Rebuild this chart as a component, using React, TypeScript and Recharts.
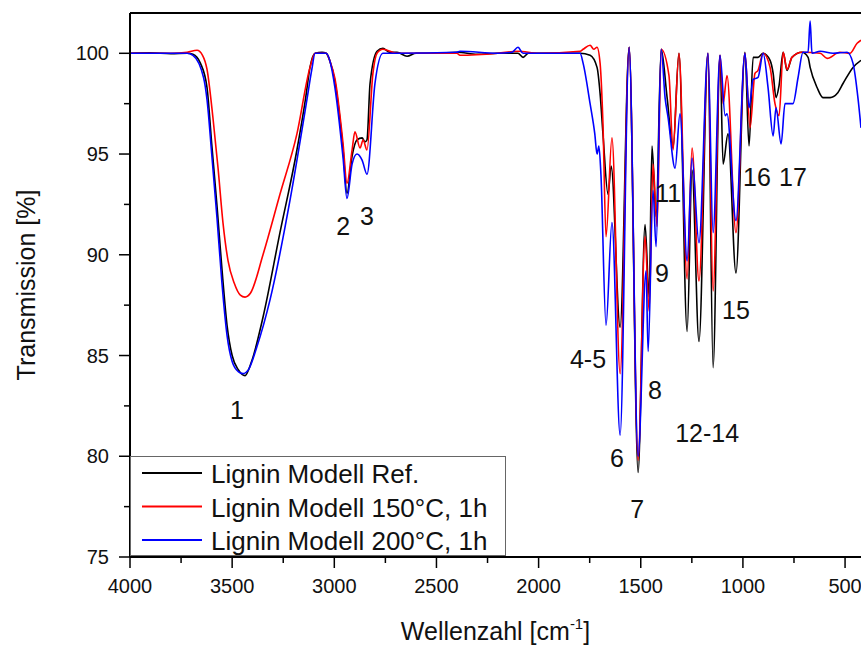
import { LineChart, Line, XAxis, YAxis, Legend, ReferenceDot, ReferenceLine, Label } from "recharts";

// [wavenumber cm-1, transmission %]
const refSpectrum: [number, number][] = [
  [4000, 100], [3900, 100.02], [3800, 99.98], [3720, 100], [3692, 99.95], [3655, 99.5], [3623, 98.3],
  [3600, 95.5], [3574, 92.4], [3550, 89.3], [3525, 86.5], [3500, 85.0], [3470, 84.3], [3437, 84.0],
  [3405, 84.7], [3349, 86.9], [3266, 91.1], [3183, 95.2], [3140, 97.8], [3119, 99.3], [3094, 100],
  [3060, 100.05], [3040, 100], [3021, 99.6], [2997, 98.6], [2957, 95.2], [2938, 93.05], [2913, 94.9],
  [2889, 95.7], [2864, 95.8], [2850, 95.6], [2840, 95.7], [2825, 98.5], [2791, 100.1], [2762, 100.25],
  [2730, 100.05], [2693, 100.05], [2644, 99.85], [2600, 100], [2500, 100], [2400, 100.05], [2300, 99.95],
  [2200, 100], [2101, 100], [2076, 99.8], [2050, 100], [1900, 100], [1797, 100], [1748, 99.9],
  [1714, 99.3], [1699, 98.0], [1685, 96.0], [1660, 93.0], [1645, 94.4], [1601, 86.4], [1557, 100.3],
  [1513, 79.2], [1479, 91.5], [1459, 87.9], [1445, 95.4], [1425, 91.9], [1400, 100.2], [1371, 97.8],
  [1342, 95.3], [1313, 100], [1273, 86.2], [1249, 94.2], [1215, 85.7], [1171, 100], [1146, 84.4],
  [1112, 99.9], [1097, 94.5], [1073, 96.0], [1034, 89.1], [990, 100.05], [970, 95.4], [950, 99.8],
  [926, 99.8], [901, 100], [867, 99.65], [852, 99.0], [838, 97.8], [823, 98.4], [803, 100.05],
  [784, 99.15], [760, 99.8], [711, 100.05], [681, 99.8], [671, 99.3], [637, 98.3], [608, 97.8],
  [573, 97.8], [539, 98.0], [510, 98.5], [461, 99.3], [422, 99.65],
];

const spectrum150: [number, number][] = [
  [4000, 100], [3800, 100], [3720, 100.05], [3672, 100.15], [3645, 99.9], [3623, 99.2], [3594, 96.8],
  [3569, 94.3], [3545, 91.6], [3520, 89.7], [3490, 88.6], [3460, 88.0], [3437, 87.9], [3410, 88.1],
  [3349, 90.0], [3266, 93.0], [3183, 96.0], [3119, 99.3], [3094, 100], [3040, 100], [3021, 99.6],
  [2997, 98.75], [2957, 95.5], [2938, 93.55], [2913, 95.2], [2899, 96.1], [2874, 95.3], [2859, 95.7],
  [2840, 95.2], [2811, 99.0], [2791, 100], [2762, 100.2], [2693, 100], [2400, 100], [2385, 99.9],
  [2200, 100], [2101, 100.1], [2000, 100], [1797, 100.1], [1782, 100.2], [1748, 100.4], [1730, 100.2],
  [1714, 100.3], [1699, 99.5], [1685, 96.5], [1670, 90.9], [1641, 95.8], [1601, 84.1], [1557, 100.3],
  [1513, 79.8], [1479, 90.9], [1459, 87.2], [1440, 94.5], [1420, 91.4], [1400, 100.2], [1362, 98.9],
  [1342, 95.2], [1313, 100], [1273, 88.8], [1249, 95.3], [1215, 88.7], [1171, 100], [1146, 88.2],
  [1112, 99.9], [1097, 97.5], [1078, 98.9], [1034, 91.1], [990, 100], [965, 96.3], [941, 99.0],
  [926, 99.15], [901, 100], [867, 99.3], [843, 97.5], [823, 96.9], [803, 100.05], [784, 99.2],
  [760, 99.8], [711, 100.05], [622, 100], [588, 99.75], [525, 100.05], [476, 100], [441, 100.5],
  [422, 100.65],
];

const spectrum200: [number, number][] = [
  [4000, 100], [3800, 100], [3720, 100], [3692, 99.9], [3640, 98.8], [3623, 97.7], [3600, 95.0],
  [3574, 91.8], [3550, 88.6], [3525, 86.0], [3500, 84.7], [3470, 84.2], [3447, 84.1], [3420, 84.3],
  [3380, 85.4], [3315, 87.75], [3217, 92.7], [3134, 97.7], [3110, 99.2], [3094, 100], [3040, 100],
  [3021, 99.6], [2997, 98.3], [2957, 94.8], [2938, 92.8], [2913, 94.5], [2889, 95.0], [2864, 94.7],
  [2840, 94.0], [2801, 98.5], [2762, 100], [2693, 100], [2400, 100.05], [2385, 100.1], [2200, 100],
  [2130, 100.05], [2101, 100.3], [2076, 100], [1797, 100], [1782, 99.5], [1748, 97.5], [1725, 96.0],
  [1714, 95.0], [1705, 95.4], [1695, 94.0], [1670, 86.5], [1641, 91.6], [1601, 81.05], [1557, 100.3],
  [1513, 80.0], [1474, 89.2], [1464, 85.2], [1440, 93.2], [1425, 90.4], [1400, 100.2], [1381, 97.8],
  [1366, 96.8], [1332, 94.3], [1308, 97.0], [1273, 89.7], [1249, 94.8], [1215, 90.6], [1171, 100],
  [1146, 91.1], [1112, 99.9], [1087, 96.9], [1078, 97.0], [1034, 91.7], [990, 100], [970, 97.3],
  [950, 98.7], [926, 98.8], [901, 100], [877, 98.3], [852, 95.9], [838, 97.3], [813, 95.5],
  [794, 97.5], [755, 97.5], [730, 98.8], [706, 100.05], [681, 100.05], [671, 101.6], [662, 100],
  [622, 100.1], [559, 100], [490, 100.05], [461, 99.5], [436, 97.7], [422, 96.3],
];

const seriesNames = ["Lignin Modell Ref.", "Lignin Modell 150°C, 1h", "Lignin Modell 200°C, 1h"];
const seriesColors = ["#000000", "#ff0000", "#0000ff"];

const peakLabels = ["1", "2", "3", "4-5", "6", "7", "8", "9", "11", "12-14", "15", "16", "17"];
const peakWavenumbers = [3476, 2957, 2840, 1758, 1616, 1518, 1430, 1396, 1366, 1175, 1034, 931, 755];
const peakTransmission = [82.3, 91.4, 91.9, 84.8, 79.9, 77.4, 83.3, 89.1, 93.05, 81.15, 87.25, 93.85, 93.85];

const xTicks = [4000, 3750, 3500, 3250, 3000, 2750, 2500, 2250, 2000, 1750, 1500, 1250, 1000, 750, 500];
const yTicks = [75, 77.5, 80, 82.5, 85, 87.5, 90, 92.5, 95, 97.5, 100];

const FONT = "'Liberation Sans', Arial, sans-serif";

const toRows = (s: [number, number][]) => s.map(([wn, t]) => ({ wn, t }));
const allSeries = [refSpectrum, spectrum150, spectrum200].map(toRows);

function XTick({ x, y, payload }: any) {
  const major = payload.value % 500 === 0;
  return (
    <g>
      <line x1={x} x2={x} y1={y} y2={y + (major ? 11 : 6)} stroke="#000" strokeWidth={1.5} />
      {major && (
        <text x={x} y={y + 36} textAnchor="middle" fontSize={20} fontFamily={FONT} fill="#111">
          {payload.value}
        </text>
      )}
    </g>
  );
}

function YTick({ x, y, payload }: any) {
  const major = payload.value % 5 === 0;
  return (
    <g>
      <line x1={x - (major ? 11 : 6)} x2={x} y1={y} y2={y} stroke="#000" strokeWidth={1.5} />
      {major && (
        <text x={x - 21} y={y} dy="0.35em" textAnchor="end" fontSize={20} fontFamily={FONT} fill="#111">
          {payload.value}
        </text>
      )}
    </g>
  );
}

function LegendBox() {
  return (
    <div
      style={{
        width: 376,
        height: 100,
        border: "1px solid #666",
        background: "#fff",
        boxSizing: "border-box",
        fontFamily: FONT,
      }}
    >
      <svg width={374} height={98}>
        {seriesNames.map((name, i) => (
          <g key={name}>
            <line x1={11} x2={71} y1={16 + i * 33.5} y2={16 + i * 33.5} stroke={seriesColors[i]} strokeWidth={2} />
            <text x={80} y={26 + i * 33.5} fontSize={26} fill="#111" fontFamily={FONT}>
              {name}
            </text>
          </g>
        ))}
      </svg>
    </div>
  );
}

export default function App() {
  return (
    <div style={{ position: "absolute", left: 0, top: 0, fontFamily: FONT }}>
      <LineChart width={861} height={646} margin={{ top: 13, right: 0, bottom: 0, left: 0 }}>
        <XAxis
          type="number"
          dataKey="wn"
          domain={[422, 4000]}
          reversed
          ticks={xTicks}
          tick={<XTick />}
          tickLine={false}
          tickSize={0}
          tickMargin={0}
          interval={0}
          height={89}
          axisLine={{ stroke: "#000", strokeWidth: 2 }}
          allowDataOverflow
        >
          <Label
            content={({ viewBox }: any) => (
              <text
                x={viewBox.x + viewBox.width / 2}
                y={viewBox.y + 83}
                textAnchor="middle"
                fontSize={25}
                fontFamily={FONT}
                fill="#111"
              >
                Wellenzahl [cm
                <tspan fontSize={15} dy={-11}>-1</tspan>
                <tspan dy={11}>]</tspan>
              </text>
            )}
          />
        </XAxis>
        <YAxis
          type="number"
          dataKey="t"
          domain={[75, 102]}
          ticks={yTicks}
          tick={<YTick />}
          tickLine={false}
          tickSize={0}
          tickMargin={0}
          interval={0}
          width={130}
          axisLine={{ stroke: "#000", strokeWidth: 2 }}
          allowDataOverflow
        >
          <Label
            content={({ viewBox }: any) => {
              const cy = viewBox.y + viewBox.height / 2;
              return (
                <text
                  x={35}
                  y={cy}
                  transform={`rotate(-90 35 ${cy})`}
                  textAnchor="middle"
                  fontSize={25}
                  fontFamily={FONT}
                  fill="#111"
                >
                  Transmission [%]
                </text>
              );
            }}
          />
        </YAxis>
        <ReferenceLine y={102} stroke="#000" strokeWidth={2} />
        {allSeries.map((rows, i) => (
          <Line
            key={seriesNames[i]}
            data={rows}
            dataKey="t"
            name={seriesNames[i]}
            type="monotone"
            stroke={seriesColors[i]}
            strokeWidth={1.6}
            dot={false}
            isAnimationActive={false}
          />
        ))}
        {peakLabels.map((lab, i) => (
          <ReferenceDot
            key={lab}
            x={peakWavenumbers[i]}
            y={peakTransmission[i]}
            r={0}
            fill="none"
            stroke="none"
            label={{ value: lab, position: "center", fontSize: 25, fill: "#111", fontFamily: FONT }}
          />
        ))}
        <Legend
          layout="vertical"
          align="center"
          verticalAlign="middle"
          content={<LegendBox />}
          wrapperStyle={{ position: "absolute", left: 130, top: 456, width: 376, height: 100 }}
        />
      </LineChart>
    </div>
  );
}
